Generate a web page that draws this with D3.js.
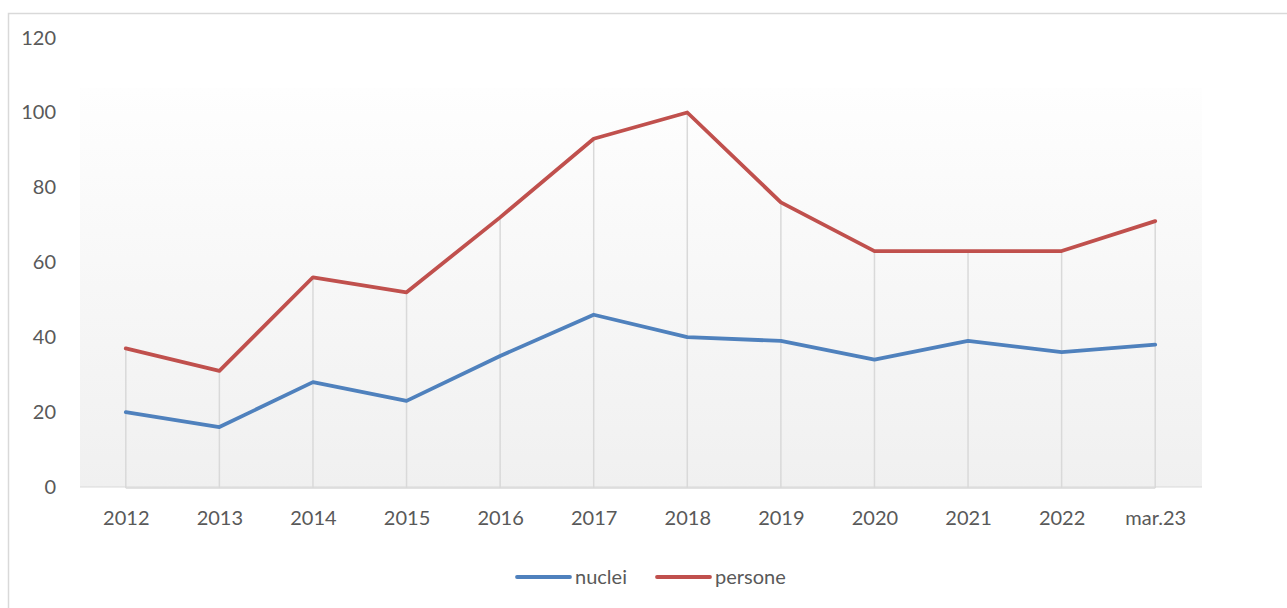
<!DOCTYPE html>
<html><head><meta charset="utf-8">
<script src="https://cdn.jsdelivr.net/npm/d3@7"></script>
<style>body{margin:0;background:#fff;}svg{display:block;font-family:Lato,"Open Sans",sans-serif;}</style>
</head><body>
<svg id="c" width="1287" height="608"></svg>
<script>
const categories = ["2012","2013","2014","2015","2016","2017","2018","2019","2020","2021","2022","mar.23"];
const nuclei = [20,16,28,23,35,46,40,39,34,39,36,38];
const persone = [37,31,56,52,72,93,100,76,63,63,63,71];
const yTicks = [0,20,40,60,80,100,120];

const svg = d3.select("#c");
const W=1287,H=608;
svg.append("rect").attr("x",8.5).attr("y",13.5).attr("width",1300).attr("height",700)
  .attr("fill","#fff").attr("stroke","#d9d9d9").attr("stroke-width",1.5);

const x = d3.scalePoint().domain(categories).range([79,1202]).padding(0.5);
const y = d3.scaleLinear().domain([0,120]).range([487,37.6]);

const defs = svg.append("defs");
const g = defs.append("linearGradient").attr("id","bg").attr("x1",0).attr("y1",0).attr("x2",0).attr("y2",1);
g.append("stop").attr("offset","0%").attr("stop-color","#fefefe");
g.append("stop").attr("offset","100%").attr("stop-color","#f0f0f0");

svg.append("rect").attr("x",80).attr("y",88).attr("width",1122).attr("height",399).attr("fill","url(#bg)");

// baseline
svg.append("line").attr("x1",80).attr("x2",1202).attr("y1",487).attr("y2",487).attr("stroke","#d9d9d9").attr("stroke-width",1);

// drop lines
svg.append("g").selectAll("line").data(categories).join("line")
  .attr("x1",d=>x(d)).attr("x2",d=>x(d))
  .attr("y1",(d,i)=>y(Math.max(nuclei[i],persone[i])))
  .attr("y2",y(0)+1)
  .attr("stroke","#d9d9d9").attr("stroke-width",1.5);
svg.append("line").attr("x1",x(categories[0])).attr("x2",x(categories[categories.length-1]))
  .attr("y1",488).attr("y2",488).attr("stroke","#d9d9d9").attr("stroke-width",1.5);

// y axis labels
const yAxis = d3.axisLeft(y).tickValues(yTicks).tickSize(0).tickPadding(0);
const ya = svg.append("g").attr("transform","translate(56,0)").call(yAxis);
ya.select(".domain").remove();
ya.selectAll("text").attr("font-size",20).attr("fill","#595959").attr("font-family","Lato,'Open Sans',sans-serif");

// x axis labels
const xAxis = d3.axisBottom(x).tickSize(0).tickPadding(0);
const xa = svg.append("g").attr("transform","translate(0,511)").call(xAxis);
xa.select(".domain").remove();
xa.selectAll("text").attr("font-size",20).attr("fill","#595959").attr("dy","0.71em").attr("font-family","Lato,'Open Sans',sans-serif");

const line = d3.line().x((d,i)=>x(categories[i])).y(d=>y(d));
const series = [{name:"nuclei",vals:nuclei,color:"#4F81BD"},{name:"persone",vals:persone,color:"#C0504D"}];
series.forEach(s=>{
  svg.append("path").datum(s.vals).attr("d",line).attr("fill","none")
    .attr("stroke",s.color).attr("stroke-width",3.8).attr("stroke-linejoin","round").attr("stroke-linecap","round");
});

// legend
const legX=[517,657];
series.forEach((s,i)=>{
  const lg = svg.append("g").attr("transform",`translate(${legX[i]},577)`);
  lg.append("line").attr("x1",0).attr("x2",53).attr("stroke",s.color).attr("stroke-width",3.8).attr("stroke-linecap","round");
  lg.append("text").attr("x",58).attr("y",0).attr("dy","0.35em").attr("font-size",20).attr("fill","#595959").text(s.name);
});
</script>
</body></html>
